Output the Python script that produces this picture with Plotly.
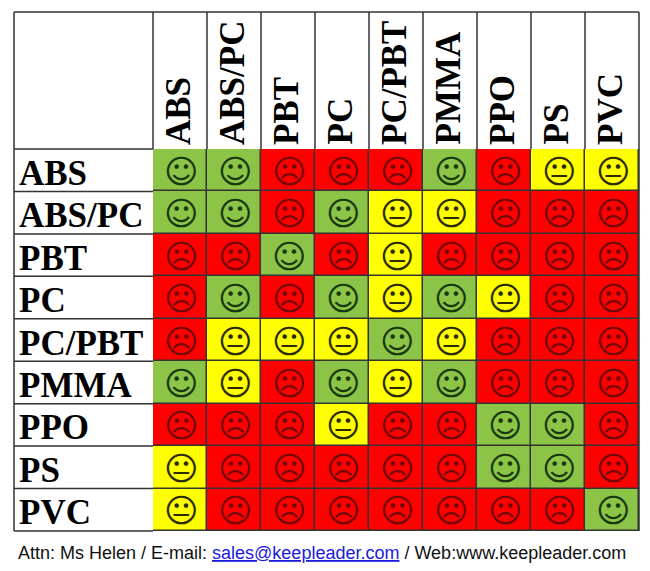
import plotly.graph_objects as go

# materiais nas linhas e colunas
materials = ['ABS', 'ABS/PC', 'PBT', 'PC', 'PC/PBT', 'PMMA', 'PPO', 'PS', 'PVC']

# 2 = compativel, 1 = parcial, 0 = incompativel
abs_row = [2, 2, 0, 0, 0, 2, 0, 1, 1]
abs_pc_row = [2, 2, 0, 2, 1, 1, 0, 0, 0]
pbt_row = [0, 0, 2, 0, 1, 0, 0, 0, 0]
pc_row = [0, 2, 0, 2, 1, 2, 1, 0, 0]
pc_pbt_row = [0, 1, 1, 1, 2, 1, 0, 0, 0]
pmma_row = [2, 1, 0, 2, 1, 2, 0, 0, 0]
ppo_row = [0, 0, 0, 1, 0, 0, 2, 2, 0]
ps_row = [1, 0, 0, 0, 0, 0, 2, 2, 0]
pvc_row = [1, 0, 0, 0, 0, 0, 0, 0, 2]
rows = [abs_row, abs_pc_row, pbt_row, pc_row, pc_pbt_row, pmma_row, ppo_row, ps_row, pvc_row]

red = '#fe0000'
yellow = '#ffff00'
green = '#8cc447'
line_color = '#333333'
W, H = 650, 571
L, R, T, B = 153, 639, 149, 531

fig = go.Figure()

fig.add_trace(go.Heatmap(
    z=rows, x=materials, y=materials, zmin=0, zmax=2, showscale=False, xgap=1.5, ygap=1.5,
    colorscale=[[0, red], [0.33, red], [0.33, yellow], [0.66, yellow], [0.66, green], [1, green]],
    hoverinfo='skip'
))

# carinhas como texto
faces = {2: ('\u263a', '#17380f'), 1: ('\U0001F610', '#2b2b00'), 0: ('\u2639', '#730808')}
for i, row in enumerate(rows):
    for j, v in enumerate(row):
        glyph, cor = faces[v]
        fig.add_annotation(x=materials[j], y=materials[i], text='<b>' + glyph + '</b>', showarrow=False, yshift=-1, xshift=1,
                           font=dict(family='DejaVu Sans', size=33, color=cor))

# rotulos do cabecalho e da primeira coluna
label_font = dict(family='Liberation Serif', size=35, color='black')
for m in materials:
    fig.add_annotation(x=m, y=1.0, xref='x', yref='paper', yshift=2, xshift=-2, text='<b>' + m + '</b>', textangle=-90,
                       showarrow=False, xanchor='center', yanchor='bottom', font=label_font)
    fig.add_annotation(x=(16.5 - L) / (R - L), y=m, xref='paper', yref='y', yshift=-3, text='<b>' + m + '</b>',
                       showarrow=False, xanchor='left', yanchor='middle', font=label_font)

# linhas da tabela fora do mapa de calor
linha = dict(color=line_color, width=1.5)
top = (H - 12 - (H - B)) / (B - T)
for j in range(10):
    xp = j / 9
    fig.add_shape(type='line', xref='paper', yref='paper', x0=xp, x1=xp, y0=1, y1=top, line=linha)
for i in range(10):
    yp = i / 9
    fig.add_shape(type='line', xref='paper', yref='paper', x0=(14 - L) / (R - L), x1=0, y0=yp, y1=yp, line=linha)
fig.add_shape(type='line', xref='paper', yref='paper', x0=(14 - L) / (R - L), x1=1, y0=top, y1=top, line=linha)
fig.add_shape(type='line', xref='paper', yref='paper', x0=(14 - L) / (R - L), x1=(14 - L) / (R - L), y0=0, y1=top, line=linha)
fig.add_shape(type='line', xref='paper', yref='paper', x0=1, x1=1, y0=0, y1=1, line=linha)

# rodape com contato
fig.add_annotation(
    x=(16 - L) / (R - L), y=(B - 553) / (B - T), xref='paper', yref='paper', showarrow=False,
    xanchor='left', yanchor='middle', font=dict(family='Liberation Sans', size=18, color='#111111'),
    text='Attn: Ms Helen / E-mail: <span style="color:#1a1ae0"><u>sales@keepleader.com</u></span> / Web:www.keepleader.com'
)

fig.update_layout(
    width=W, height=H, margin=dict(l=L, r=W - R, t=T, b=H - B, autoexpand=False),
    paper_bgcolor='white', plot_bgcolor=line_color, showlegend=False,
    xaxis=dict(showticklabels=False, ticks='', showgrid=False, zeroline=False, type='category', range=[-0.5, 8.5]),
    yaxis=dict(showticklabels=False, ticks='', showgrid=False, zeroline=False, type='category', range=[8.5, -0.5])
)

# tira a margem padrao do body
fig.write_html("out.html", config={'displayModeBar': False}, post_script="document.body.style.margin='0';")
